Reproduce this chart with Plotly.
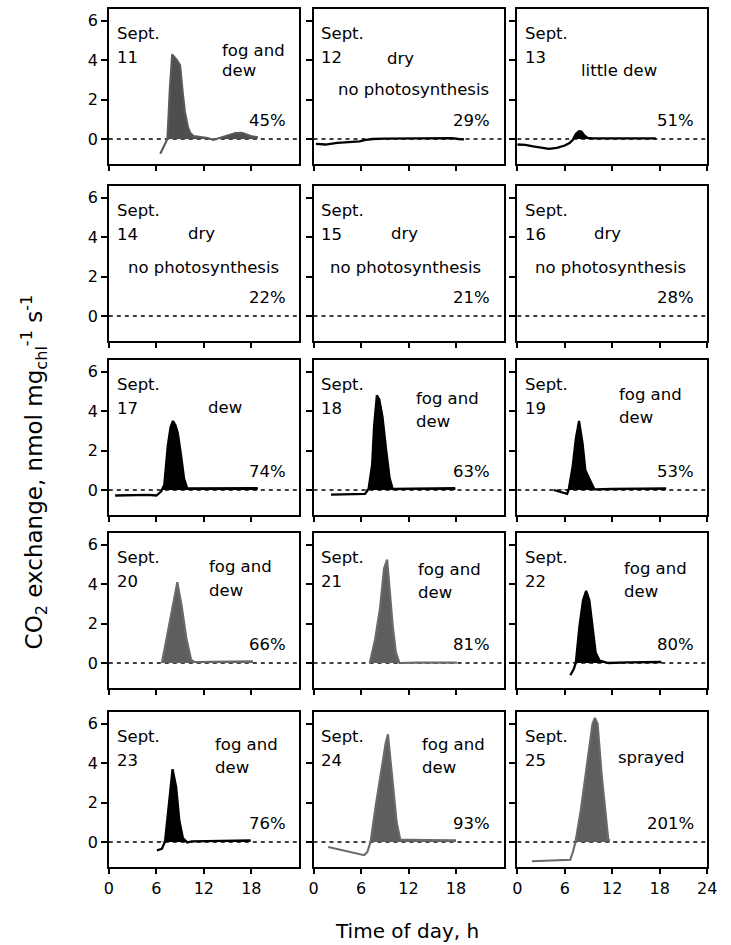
import plotly.graph_objects as go
import numpy as np

# ---------------- data ----------------
DAYS = ["11", "12", "13", "14", "15", "16", "17", "18", "19", "20", "21", "22", "23", "24", "25"]
PERCENTS = ["45%", "29%", "51%", "22%", "21%", "28%", "74%", "63%", "53%",
            "66%", "81%", "80%", "76%", "93%", "201%"]

S11_X = [6.5, 7.0, 7.4, 7.7, 8.0, 8.6, 9.0, 9.3, 9.6, 10.0, 10.3, 10.7, 11.5, 12.5, 13.2, 14.0, 15.0, 16.0, 16.8, 17.5, 18.2, 18.8]
S11_Y = [-0.75, -0.35, 0.0, 2.5, 4.3, 4.0, 3.75, 2.5, 1.4, 0.6, 0.3, 0.15, 0.1, 0.05, -0.05, 0.05, 0.2, 0.3, 0.32, 0.22, 0.12, 0.1]
S12_X = [0.3, 1.5, 3.0, 4.5, 5.8, 6.6, 7.5, 9.0, 11.0, 13.0, 15.0, 16.5, 17.5, 18.3, 19.0]
S12_Y = [-0.25, -0.28, -0.2, -0.15, -0.12, -0.05, 0.0, 0.02, 0.02, 0.03, 0.05, 0.05, 0.04, 0.0, -0.02]
S13_X = [0.0, 1.0, 2.0, 3.0, 4.0, 5.0, 6.0, 6.6, 7.0, 7.4, 7.8, 8.1, 8.5, 8.9, 9.5, 11.0, 13.0, 15.0, 17.5]
S13_Y = [-0.28, -0.3, -0.38, -0.45, -0.5, -0.45, -0.33, -0.2, -0.05, 0.25, 0.4, 0.38, 0.17, 0.05, 0.03, 0.03, 0.03, 0.03, 0.03]
S17_X = [0.8, 2.0, 3.5, 5.0, 6.0, 6.6, 7.0, 7.25, 7.45, 7.8, 8.1, 8.4, 8.7, 9.1, 9.5, 9.9, 11.0, 13.4, 16.0, 18.8]
S17_Y = [-0.28, -0.27, -0.25, -0.25, -0.28, -0.08, 0.25, 1.5, 2.25, 3.2, 3.5, 3.3, 2.9, 1.83, 0.58, 0.08, 0.08, 0.08, 0.09, 0.1]
S18_X = [2.2, 4.0, 6.5, 6.95, 7.4, 7.65, 8.0, 8.3, 8.7, 9.2, 9.6, 10.0, 12.0, 15.0, 17.9]
S18_Y = [-0.23, -0.22, -0.2, 0.05, 1.28, 3.25, 4.8, 4.6, 3.74, 1.93, 0.62, 0.05, 0.07, 0.08, 0.1]
S19_X = [4.6, 5.5, 6.3, 6.5, 7.0, 7.4, 7.8, 8.25, 8.6, 9.25, 9.75, 12.0, 15.0, 18.8]
S19_Y = [0.0, -0.1, -0.2, 0.03, 1.2, 2.6, 3.5, 2.35, 1.0, 0.45, 0.03, 0.05, 0.07, 0.08]
S20_X = [6.7, 7.3, 8.0, 8.65, 9.2, 9.8, 10.4, 10.8, 13.0, 16.0, 18.2]
S20_Y = [0.0, 1.25, 2.75, 4.1, 2.9, 1.25, 0.17, 0.05, 0.06, 0.07, 0.08]
S21_X = [7.1, 7.75, 8.4, 8.9, 9.3, 9.6, 10.0, 10.4, 10.85, 13.0, 16.0, 18.1]
S21_Y = [0.0, 1.15, 2.8, 4.8, 5.25, 3.6, 1.9, 0.55, 0.0, 0.02, 0.02, 0.02]
S22_X = [6.7, 7.15, 7.4, 7.85, 8.3, 8.7, 9.1, 9.5, 9.9, 10.4, 11.5, 14.0, 18.2]
S22_Y = [-0.62, -0.3, 0.03, 1.85, 3.17, 3.66, 3.2, 1.85, 0.53, 0.12, 0.0, 0.03, 0.05]
S23_X = [6.07, 6.7, 7.1, 7.55, 8.05, 8.5, 8.9, 9.35, 9.9, 10.5, 13.0, 16.0, 17.9]
S23_Y = [-0.42, -0.35, 0.03, 1.95, 3.7, 2.8, 1.1, 0.2, -0.02, 0.03, 0.05, 0.07, 0.08]
S24_X = [1.85, 4.1, 6.4, 6.8, 7.2, 7.85, 8.5, 9.1, 9.4, 9.7, 10.1, 10.5, 10.95, 11.6, 14.0, 18.0]
S24_Y = [-0.25, -0.47, -0.67, -0.5, 0.0, 1.83, 3.5, 5.0, 5.47, 4.33, 2.67, 1.0, 0.13, 0.13, 0.1, 0.08]
S25_X = [1.85, 4.25, 6.7, 7.05, 7.35, 8.0, 8.6, 9.2, 9.5, 9.8, 10.15, 10.66, 11.07, 11.5, 11.7]
S25_Y = [-0.98, -0.95, -0.9, -0.47, 0.0, 1.56, 3.42, 5.3, 6.0, 6.3, 6.0, 3.42, 1.73, 0.12, 0.08]

X_TICKS_INNER = [0, 6, 12, 18]
X_TICKS_LAST = [0, 6, 12, 18, 24]
X_TICKTEXT_INNER = ["0", "6", "12", "18"]
X_TICKTEXT_LAST = ["0", "6", "12", "18", "24"]
Y_TICKS = [0, 2, 4, 6]

# per-panel curves (None = no curve), fill style
CURVES = [(S11_X, S11_Y, "dgray"), (S12_X, S12_Y, None), (S13_X, S13_Y, "black"),
          None, None, None,
          (S17_X, S17_Y, "black"), (S18_X, S18_Y, "black"), (S19_X, S19_Y, "black"),
          (S20_X, S20_Y, "gray"), (S21_X, S21_Y, "gray"), (S22_X, S22_Y, "black"),
          (S23_X, S23_Y, "black"), (S24_X, S24_Y, "gray"), (S25_X, S25_Y, "gray")]

# condition labels: (text, x, y, xanchor)
LABELS = [
    [("fog and", 14.1, 4.5, "left"), ("dew", 14.1, 3.5, "left")],
    [("dry", 9.0, 4.1, "left"), ("no photosynthesis", 12.6, 2.5, "center")],
    [("little dew", 12.9, 3.5, "center")],
    [("dry", 9.7, 4.2, "left"), ("no photosynthesis", 12.0, 2.45, "center")],
    [("dry", 9.5, 4.2, "left"), ("no photosynthesis", 11.6, 2.45, "center")],
    [("dry", 9.4, 4.2, "left"), ("no photosynthesis", 11.8, 2.45, "center")],
    [("dew", 14.7, 4.2, "center")],
    [("fog and", 12.7, 4.65, "left"), ("dew", 12.7, 3.5, "left")],
    [("fog and", 12.6, 4.85, "left"), ("dew", 12.6, 3.7, "left")],
    [("fog and", 12.4, 4.9, "left"), ("dew", 12.4, 3.7, "left")],
    [("fog and", 12.9, 4.75, "left"), ("dew", 12.9, 3.6, "left")],
    [("fog and", 13.2, 4.8, "left"), ("dew", 13.2, 3.65, "left")],
    [("fog and", 13.2, 4.95, "left"), ("dew", 13.2, 3.8, "left")],
    [("fog and", 13.5, 4.95, "left"), ("dew", 13.5, 3.8, "left")],
    [("sprayed", 12.5, 4.3, "left")],
]

# ---------------- layout geometry ----------------
W, H = 731, 945
COL_PX = [(106, 300), (315, 509), (523, 717)]
ZERO_PX = [139, 316, 490, 663, 842]
UNIT = 19.7
YMIN, YMAX = -1.25, 6.6
FONT = "DejaVu Sans"
FS = 16.5

FILLS = {"black": ("#000000", "#000000"), "gray": ("#5e5e5e", "#6a6a6a"),
         "dgray": ("#4e4e4e", "#5a5a5a")}

fig = go.Figure()
annotations = []
layout = {}

for i in range(15):
    r, c = divmod(i, 3)
    n = i + 1
    xk = "x" if n == 1 else f"x{n}"
    yk = "y" if n == 1 else f"y{n}"
    x0, x1 = COL_PX[c]
    top = ZERO_PX[r] - YMAX * UNIT
    bot = ZERO_PX[r] - YMIN * UNIT
    axis_common = dict(showline=True, mirror=True, linecolor="black", linewidth=1.6,
                       ticks="outside", ticklen=6, tickwidth=1.5, tickcolor="black",
                       showgrid=False, zeroline=False,
                       tickfont=dict(family=FONT, size=16, color="black"))
    layout["xaxis" if n == 1 else f"xaxis{n}"] = dict(
        domain=[x0 / W, x1 / W], range=[0, 24], anchor=yk,
        tickvals=X_TICKS_LAST if c == 2 else X_TICKS_INNER,
        ticktext=X_TICKTEXT_LAST if c == 2 else X_TICKTEXT_INNER,
        showticklabels=(r == 4), **axis_common)
    layout["yaxis" if n == 1 else f"yaxis{n}"] = dict(
        domain=[1 - bot / H, 1 - top / H], range=[YMIN, YMAX], anchor=xk,
        tickvals=Y_TICKS, showticklabels=(c == 0), **axis_common)

    # dashed zero line
    fig.add_trace(go.Scatter(x=[0, 24], y=[0, 0], mode="lines", xaxis=xk, yaxis=yk,
                             line=dict(color="black", width=1.5, dash="4px,4px"),
                             hoverinfo="skip"))
    cv = CURVES[i]
    if cv is not None:
        cx, cy, style = cv
        cx = np.array(cx, dtype=float)
        cy = np.array(cy, dtype=float)
        if style is not None:
            fc, lc = FILLS[style]
            fig.add_trace(go.Scatter(x=cx, y=np.clip(cy, 0, None), mode="lines",
                                     xaxis=xk, yaxis=yk, fill="tozeroy",
                                     fillcolor=fc, line=dict(width=0, color=fc),
                                     hoverinfo="skip"))
        else:
            lc = "#000000"
        fig.add_trace(go.Scatter(x=cx, y=cy, mode="lines", xaxis=xk, yaxis=yk,
                                 line=dict(color=lc, width=2.3 if style in ("black", None) else 2.1),
                                 hoverinfo="skip"))

    tf = dict(family=FONT, size=FS, color="black")
    annotations.append(dict(text="Sept.", x=0.75, y=5.35, xref=xk, yref=yk,
                            xanchor="left", yanchor="middle", showarrow=False, font=tf))
    annotations.append(dict(text=DAYS[i], x=0.75, y=4.15, xref=xk, yref=yk,
                            xanchor="left", yanchor="middle", showarrow=False, font=tf))
    for (t, tx, ty, xa) in LABELS[i]:
        annotations.append(dict(text=t, x=tx, y=ty, xref=xk, yref=yk,
                                xanchor=xa, yanchor="middle", showarrow=False, font=tf))
    annotations.append(dict(text=PERCENTS[i], x=22.6, y=0.92, xref=xk, yref=yk,
                            xanchor="right", yanchor="middle", showarrow=False, font=tf))

annotations.append(dict(text="CO<sub>2</sub> exchange, nmol mg<sub>chl</sub><sup>-1</sup> s<sup>-1</sup>",
                        x=30 / W, y=1 - 472 / H, xref="paper", yref="paper",
                        xanchor="center", yanchor="middle", textangle=-90,
                        showarrow=False, font=dict(family=FONT, size=23, color="black")))
annotations.append(dict(text="Time of day, h", x=410 / W, y=1 - 931 / H,
                        xref="paper", yref="paper", xanchor="center", yanchor="middle",
                        showarrow=False, font=dict(family=FONT, size=20, color="black")))

fig.update_layout(width=W, height=H, margin=dict(l=0, r=0, t=0, b=0),
                  paper_bgcolor="white", plot_bgcolor="white",
                  showlegend=False, hovermode=False, annotations=annotations, **layout)

fig.write_html("out.html", config={"displayModeBar": False},
               post_script="document.body.style.margin='0';document.body.style.padding='0';")
